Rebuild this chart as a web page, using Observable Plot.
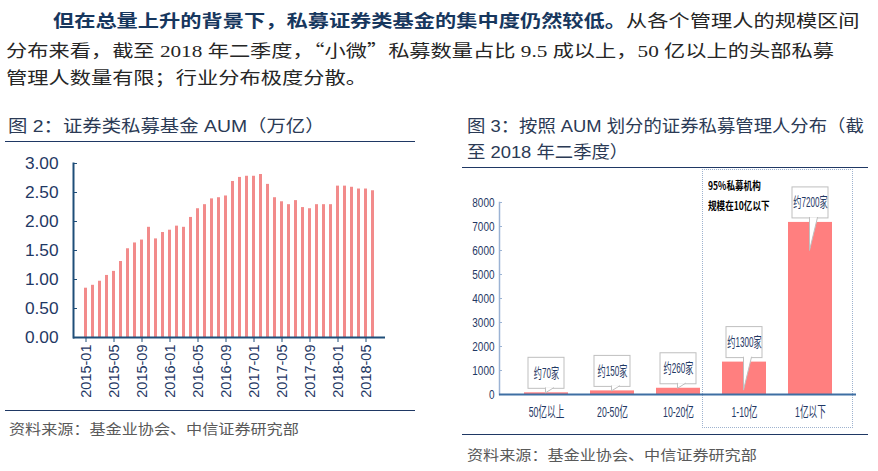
<!DOCTYPE html>
<html><head><meta charset="utf-8">
<script src="https://cdn.jsdelivr.net/npm/d3@7"></script>
<script src="https://cdn.jsdelivr.net/npm/@observablehq/plot@0.6"></script>
<style>
html,body{margin:0;padding:0;background:#fff;}
#page{position:relative;width:878px;height:471px;overflow:hidden;background:#fff;}
.abs{position:absolute;white-space:nowrap;}
.sx{display:inline-block;transform-origin:0 50%;}
.rule{position:absolute;height:0;border-top:1px solid #1f3864;}
.q{font-family:'Noto Sans CJK SC',sans-serif;font-feature-settings:"fwid";}
</style></head>
<body><div id="page">
<div class="abs" style="left:6px;top:6px;font-size:17.2px;line-height:27.5px;color:#262626;font-family:'Liberation Serif','Noto Sans CJK SC',serif;">
<span class="sx" style="transform:scaleX(1.235)"><span style="display:inline-block;width:38px"></span><b style="color:#17375e;font-family:'Noto Sans CJK SC',sans-serif;">但在总量上升的背景下，私募证券类基金的集中度仍然较低。</b>从各个管理人的规模区间<br>分布来看，截至 2018 年二季度，<span class="q">“</span>小微<span class="q">”</span>私募数量占比 9.5 成以上，50 亿以上的头部私募<br>管理人数量有限；行业分布极度分散。</span>
</div>

<div class="abs" style="left:8px;top:116px;font-size:17px;line-height:22px;color:#2b3a55;font-family:'Liberation Sans','Noto Sans CJK SC',sans-serif;"><span class="sx" style="transform:scaleX(1.14)">图 2：证券类私募基金 AUM（万亿）</span></div>
<div class="rule" style="left:5px;top:141px;width:410px;"></div>
<div class="rule" style="left:5px;top:410px;width:410px;"></div>
<div class="abs" style="left:9px;top:418px;font-size:14px;line-height:20px;color:#595959;font-family:'Noto Sans CJK SC',sans-serif;"><span class="sx" style="transform:scaleX(1.15)">资料来源：基金业协会、中信证券研究部</span></div>

<div class="abs" style="left:467px;top:114px;font-size:17px;line-height:26px;color:#2b3a55;font-family:'Liberation Sans','Noto Sans CJK SC',sans-serif;"><span class="sx" style="transform:scaleX(1.08)">图 3：按照 AUM 划分的证券私募管理人分布（截<br>至 2018 年二季度）</span></div>
<div class="rule" style="left:462px;top:167px;width:406px;"></div>
<div class="rule" style="left:462px;top:434px;width:406px;"></div>
<div class="abs" style="left:467px;top:444px;font-size:14px;line-height:20px;color:#595959;font-family:'Noto Sans CJK SC',sans-serif;"><span class="sx" style="transform:scaleX(1.15)">资料来源：基金业协会、中信证券研究部</span></div>

<div style="position:absolute;left:702px;top:169px;width:149px;height:257px;border:1px dotted #9fb3cf;"></div>
<div class="abs" style="left:708px;top:175px;font-size:11px;line-height:20px;font-weight:bold;color:#000;font-family:'Noto Sans CJK SC',sans-serif;"><span class="sx" style="transform:scaleX(0.78)">95%私募机构<br>规模在10亿以下</span></div>

<div id="left" style="position:absolute;left:0;top:150px;"></div>
<div id="right" style="position:absolute;left:440px;top:170px;"></div>
</div>
<script>
// ---- Figure 2: AUM of securities private funds (trillion yuan) ----
const months = ["2015-01","2015-02","2015-03","2015-04","2015-05","2015-06","2015-07","2015-08","2015-09","2015-10","2015-11","2015-12",
  "2016-01","2016-02","2016-03","2016-04","2016-05","2016-06","2016-07","2016-08","2016-09","2016-10","2016-11","2016-12",
  "2017-01","2017-02","2017-03","2017-04","2017-05","2017-06","2017-07","2017-08","2017-09","2017-10","2017-11","2017-12",
  "2018-01","2018-02","2018-03","2018-04","2018-05","2018-06"];
const aum = [0.85,0.90,0.97,1.07,1.14,1.31,1.53,1.63,1.68,1.90,1.70,1.81,
  1.85,1.92,1.90,2.07,2.22,2.29,2.39,2.41,2.44,2.69,2.76,2.78,
  2.78,2.81,2.64,2.41,2.34,2.29,2.36,2.24,2.22,2.29,2.29,2.29,
  2.61,2.61,2.59,2.56,2.56,2.53];
const monthTicks = ["2015-01","2015-05","2015-09","2016-01","2016-05","2016-09","2017-01","2017-05","2017-09","2018-01","2018-05"];
const aumTicks = [0, 0.5, 1, 1.5, 2, 2.5, 3];

// ---- Figure 3: managers by AUM bracket ----
const brackets = ["50亿以上","20-50亿","10-20亿","1-10亿","1亿以下"];
const managerCounts = [70, 150, 260, 1350, 7170];
const calloutLabels = ["约70家","约150家","约260家","约1300家","约7200家"];
const countTicks = [0,1000,2000,3000,4000,5000,6000,7000,8000];

const aumData = months.map((m, i) => ({month: m, value: aum[i]}));
const distData = brackets.map((b, i) => ({cat: b, n: managerCounts[i], label: calloutLabels[i]}));

const navy = "#1f3864";
const axisBlue = "#1f4e79";

function squeeze(svg, label, k) {
  svg.querySelectorAll(`g[aria-label="${label}"] text`).forEach(t => {
    const tr = t.getAttribute("transform") || "";
    t.setAttribute("transform", tr + ` scale(${k},1)`);
  });
}

const left = Plot.plot({
  width: 420, height: 260,
  marginTop: 13, marginBottom: 73, marginLeft: 73, marginRight: 35,
  style: {fontFamily: "'Liberation Sans', Arial, sans-serif", background: "transparent", overflow: "visible"},
  x: {type: "band", domain: months, padding: 0.58},
  y: {domain: [0, 3]},
  marks: [
    Plot.barY(aumData, {x: "month", y: "value", fill: "#f28b8b"}),
    Plot.axisY({ticks: aumTicks, tickSize: -4, tickFormat: () => "", stroke: axisBlue, label: null}),
    Plot.axisY({ticks: aumTicks, tickSize: 0, tickPadding: 15, tickFormat: d3.format(".2f"), fontSize: 16, fill: navy, label: null}),
    Plot.axisX({ticks: monthTicks, tickRotate: -90, tickSize: 5, tickPadding: 2, fontSize: 14.5, color: navy, stroke: axisBlue, label: null}),
    Plot.ruleY([0], {stroke: axisBlue, strokeWidth: 2}),
    Plot.frame({anchor: "left", stroke: axisBlue, strokeWidth: 2})
  ]
});
squeeze(left, "y-axis tick label", 1.08);
document.getElementById("left").appendChild(left);

const pointer = {
  draw(context, l) {
    context.moveTo(-7, 0);
    context.lineTo(1, -l);
    context.lineTo(1, 0);
  }
};

const right = Plot.plot({
  width: 430, height: 262,
  marginTop: 32, marginBottom: 38, marginLeft: 59, marginRight: 14,
  style: {fontFamily: "'Liberation Sans', 'Noto Sans CJK SC', sans-serif", background: "transparent", overflow: "visible"},
  x: {type: "band", domain: brackets, padding: 0.34},
  y: {domain: [0, 8000]},
  length: {type: "identity"},
  marks: [
    Plot.barY(distData, {x: "cat", y: "n", fill: "#ff7f7f"}),
    Plot.frame({anchor: "left", stroke: "#9bb3d4", strokeWidth: 1.5}),
    Plot.axisY({ticks: countTicks, tickSize: -3, tickFormat: () => "", stroke: "#9bb3d4", label: null}),
    Plot.axisY({ticks: countTicks, tickSize: 0, tickPadding: 5, tickFormat: d => String(d), fontSize: 13.5, fill: navy, label: null}),
    Plot.axisX({tickSize: 0, tickPadding: 12, fontSize: 14.5, fill: navy, label: null}),
    Plot.ruleY([0], {stroke: "#3e6fa3", strokeWidth: 2}),
    Plot.barY(distData, {x: "cat", y1: "n", y2: "n", fill: "white", stroke: "#bfbfbf", strokeWidth: 1, insetTop: -35, insetBottom: 4, insetLeft: 4, insetRight: 4}),
    Plot.vector(distData, {x: "cat", y: "n", length: d => d.n > 1000 ? 33 : 5, rotate: 180, anchor: "start", dy: -5, shape: pointer, fill: "white", stroke: "#bfbfbf", strokeWidth: 1}),
    Plot.text(distData, {x: "cat", y: "n", text: "label", dy: -19.5, fill: navy, fontSize: 14})
  ]
});
squeeze(right, "y-axis tick label", 0.74);
squeeze(right, "x-axis tick label", 0.6);
squeeze(right, "text", 0.58);
document.getElementById("right").appendChild(right);
</script>
</body></html>
